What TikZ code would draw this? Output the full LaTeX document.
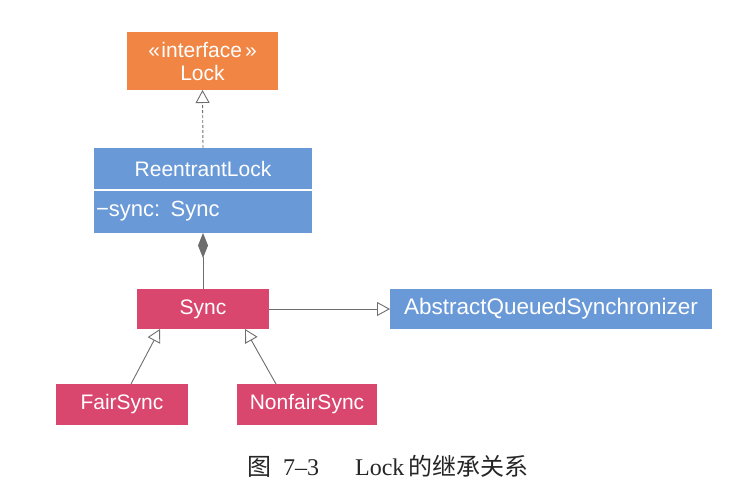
\documentclass[tikz,border=0pt]{standalone}
\usepackage{fontspec}
\setmainfont{Liberation Sans}
\newfontfamily\cjk{Noto Sans CJK SC}
\newfontfamily\capserif{Liberation Serif}
\usetikzlibrary{arrows.meta,calc}
\definecolor{lockorange}{RGB}{240,133,68}
\definecolor{umlblue}{RGB}{106,153,216}
\definecolor{umlpink}{RGB}{217,70,110}
\definecolor{linegray}{RGB}{110,110,110}
\begin{document}
\begin{tikzpicture}[x=1pt,y=-1pt,
  box/.style={rectangle,inner sep=0pt,outer sep=0pt,text=white,anchor=north west,
    font=\fontsize{21}{24}\selectfont},
  conn/.style={draw=linegray,line width=0.9pt},
  opentri/.style={-{Triangle[open,length=13pt,width=14pt,line width=0.9pt]}}
]
\useasboundingbox[fill=white] (0,0) rectangle (734,489);

\node[box,fill=lockorange,minimum width=151pt,minimum height=58pt,align=center] (lock) at (127,32)
  {{\fontsize{21}{24}\selectfont «\kern1.5pt interface\kern3pt»}\\[-1pt]Lock};

\node[box,fill=umlblue,minimum width=218pt,minimum height=42pt] (rl) at (94,148) {ReentrantLock};
\node[box,fill=umlblue,minimum width=218pt,minimum height=43pt,text width=214pt,align=left] (rlattr) at (94,190) {\fontsize{22}{24}\selectfont −sync: Sync};
\draw[white,line width=2pt] (rl.south west) -- (rl.south east);

\node[box,fill=umlpink,minimum width=132pt,minimum height=40pt] (sync) at (137,289) {Sync};
\node[box,fill=umlblue,minimum width=322pt,minimum height=40pt,font=\fontsize{22.5}{24}\selectfont] (aqs) at (390,289) {AbstractQueuedSynchronizer};
\node[box,fill=umlpink,minimum width=132pt,minimum height=41pt] (fair) at (56,384) {FairSync};
\node[box,fill=umlpink,minimum width=140pt,minimum height=41pt] (nonfair) at (237,384) {NonfairSync};

% realization
\draw[conn,dashed,dash pattern=on 3pt off 2pt,opentri] (rl.north) -- (lock.south);
% composition
\draw[conn,{Diamond[length=25pt,width=10pt,fill=linegray,color=linegray]}-] (rlattr.south) -- (sync.north);
% generalizations
\draw[conn,opentri] (sync.east) -- (aqs.west);
\draw[conn,opentri] ($(fair.north)+(9,0)$) -- ($(sync.south)+(-43,0)$);
\draw[conn,opentri] ($(nonfair.north)+(-31,0)$) -- ($(sync.south)+(42,0)$);

\node[font=\fontsize{24}{26}\selectfont,text=black!85,anchor=west,inner sep=0pt] (caption) at (247,466)
  {{\cjk 图}\hspace{12pt}{\capserif 7–3}\hspace{36pt}{\capserif Lock}\hspace{4pt}{\cjk 的继承关系}};
\end{tikzpicture}
\end{document}
